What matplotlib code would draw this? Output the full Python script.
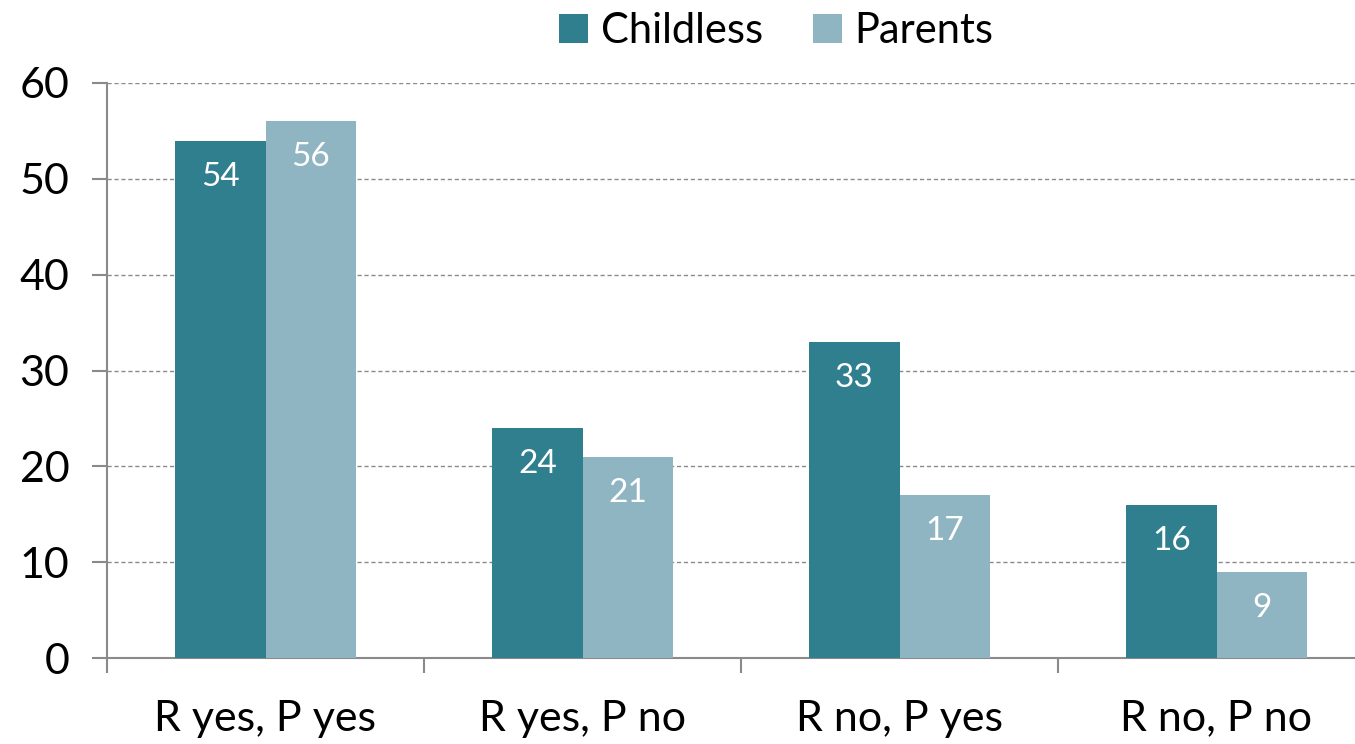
import matplotlib
matplotlib.use("Agg")
import matplotlib.pyplot as plt
import numpy as np

categories = ["R yes, P yes", "R yes, P no", "R no, P yes", "R no, P no"]
childless = [54, 24, 33, 16]
parents = [56, 21, 17, 9]
series_names = ["Childless", "Parents"]
yticks = [0, 10, 20, 30, 40, 50, 60]

plt.rcParams['font.family'] = ['Lato', 'DejaVu Sans']

c_dark = "#307f8f"
c_light = "#8fb4c2"
grey = "#8a8a8a"

fig = plt.figure(figsize=(13.55, 7.44), dpi=100)
ax = fig.add_axes([107 / 1355, 86 / 744, 1268 / 1355, 575 / 744])

x = np.arange(len(categories))
w = 0.285
b1 = ax.bar(x - w / 2, childless, w, color=c_dark, label=series_names[0], zorder=3)
b2 = ax.bar(x + w / 2, parents, w, color=c_light, label=series_names[1], zorder=3)

# value labels inside the bar tops
for bars in (b1, b2):
    for rect in bars:
        h = rect.get_height()
        ax.annotate(str(int(h)), (rect.get_x() + rect.get_width() / 2, h),
                    xytext=(0, -36), textcoords="offset pixels",
                    ha="center", va="center", color="white", fontsize=24, zorder=4)

ax.set_xlim(-0.5, len(categories) - 0.5)
ax.set_ylim(0, 60)
ax.set_yticks(yticks)
# ticks between groups, labels centred on groups
ax.set_xticks(np.arange(len(categories) + 1) - 0.5, minor=False)
ax.set_xticklabels([])
ax.set_xticks(x, minor=True)
ax.set_xticklabels(categories, minor=True, fontsize=31)
ax.tick_params(axis="x", which="minor", length=0, pad=30)
ax.tick_params(axis="x", which="major", length=11, width=1.5, color=grey, direction="out")
ax.tick_params(axis="y", length=11, width=1.5, color=grey, labelsize=31, pad=16)

ax.yaxis.grid(True, linestyle=(0, (3, 2)), color=grey, linewidth=1, zorder=0)
for s in ("top", "right"):
    ax.spines[s].set_visible(False)
for s in ("left", "bottom"):
    ax.spines[s].set_color(grey)
    ax.spines[s].set_linewidth(1.5)

fig.legend(handles=[b1, b2], loc="center", bbox_to_anchor=(0.573, 0.958), ncol=2,
           frameon=False, fontsize=30, handlelength=0.7, handleheight=0.7,
           handletextpad=0.3, columnspacing=1.2)

fig.savefig("out.png", dpi=100)
